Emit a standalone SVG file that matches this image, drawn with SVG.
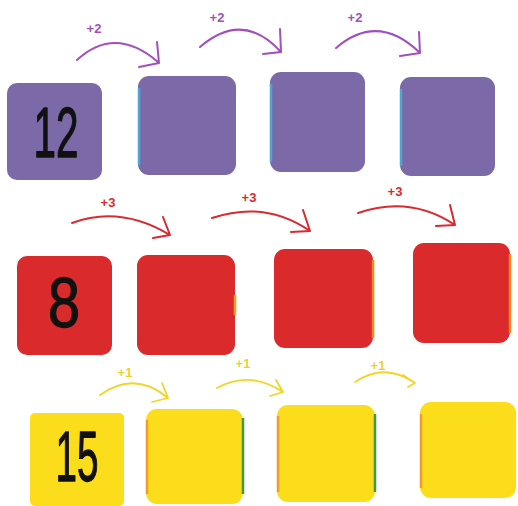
<svg xmlns="http://www.w3.org/2000/svg" width="518" height="506" viewBox="0 0 518 506">
<style>
.p{fill:#7c69a7}
.r{fill:#db2a2b}
.y{fill:#fcdd1c}
.num{font-family:"Liberation Sans",Arial,sans-serif;font-size:71px;fill:#111;stroke:#111;stroke-width:1.3;stroke-linejoin:round;text-anchor:middle}
.lbl{font-family:"Liberation Sans",Arial,sans-serif;font-size:13px;font-weight:bold;text-anchor:middle}
.ap{fill:none;stroke:#a24fbd;stroke-width:2;stroke-linecap:round;stroke-linejoin:round}
.ar{fill:none;stroke:#d92a30;stroke-width:2;stroke-linecap:round;stroke-linejoin:round}
.ay{fill:none;stroke:#f2d528;stroke-width:1.8;stroke-linecap:round;stroke-linejoin:round}
.edge{fill:none;stroke-width:2.5}
</style>
<rect width="518" height="506" fill="#fff"/>
<g id="connectors">
<path class="ap" d="M77,60 Q115,25 158,62 M139,67 L159,63 L157,42"/>
<path class="ap" d="M200,47 Q243,10 281,52 M263,54 L281,52 L280,29"/>
<path class="ap" d="M336,48 Q378,12 420,53 M400,56 L420,53 L419,32"/>
<text class="lbl" x="94" y="33" fill="#a24fbd">+2</text>
<text class="lbl" x="217" y="22" fill="#a24fbd">+2</text>
<text class="lbl" x="355" y="22" fill="#a24fbd">+2</text>
<path class="ar" d="M72,223 Q120,205 170,235 M153,238 L170,235 L163,217"/>
<path class="ar" d="M212,218 Q265,200 310,231 M291,232 L310,231 L303,210"/>
<path class="ar" d="M358,213 Q410,195 455,225 M436,226 L455,225 L450,205"/>
<text class="lbl" x="108" y="207" fill="#d92a30">+3</text>
<text class="lbl" x="249" y="202" fill="#d92a30">+3</text>
<text class="lbl" x="395" y="196" fill="#d92a30">+3</text>
<path class="ay" d="M100,395 Q135,370 168,398 M152,402 L168,398 L162,383"/>
<path class="ay" d="M217,388 Q250,370 283,392 M270,396 L283,392 L276,380"/>
<path class="ay" d="M355,382 Q385,362 415,383 M403,375 L415,383 L408,387"/>
<text class="lbl" x="125" y="377" fill="#f0d02a">+1</text>
<text class="lbl" x="243" y="368" fill="#f0d02a">+1</text>
<text class="lbl" x="378" y="370" fill="#f0d02a">+1</text>
</g>
<g id="p1"><rect class="p" x="7" y="83" width="95" height="97" rx="10"/><text class="num" x="56" y="157" textLength="45" lengthAdjust="spacingAndGlyphs">12</text></g>
<g id="p2"><rect class="p" x="138" y="76" width="98" height="99" rx="11"/><line class="edge" x1="139" y1="88" x2="139" y2="165" stroke="#4ba6d6"/></g>
<g id="p3"><rect class="p" x="270" y="72" width="95" height="100" rx="11"/><line class="edge" x1="271" y1="84" x2="271" y2="162" stroke="#4ba6d6"/></g>
<g id="p4"><rect class="p" x="400" y="77" width="95" height="99" rx="11"/><line class="edge" x1="401" y1="89" x2="401" y2="166" stroke="#4ba6d6"/></g>
<g id="r1"><rect class="r" x="17" y="256" width="95" height="99" rx="10"/><text class="num" x="64" y="327" textLength="32" lengthAdjust="spacingAndGlyphs">8</text></g>
<g id="r2"><rect class="r" x="137" y="255" width="98" height="100" rx="11"/><line class="edge" x1="235" y1="295" x2="235" y2="315" stroke="#f2a020"/></g>
<g id="r3"><rect class="r" x="274" y="249" width="99" height="99" rx="11"/><line class="edge" x1="373" y1="260" x2="373" y2="338" stroke="#f08a1c"/></g>
<g id="r4"><rect class="r" x="413" y="243" width="97" height="100" rx="11"/><line class="edge" x1="510" y1="254" x2="510" y2="333" stroke="#f08a1c"/></g>
<g id="y1"><rect class="y" x="30" y="413" width="94" height="93" rx="5"/><text class="num" x="77" y="481" textLength="43" lengthAdjust="spacingAndGlyphs">15</text></g>
<g id="y2"><rect class="y" x="146" y="409" width="97" height="95" rx="11"/><line class="edge" x1="147" y1="420" x2="147" y2="494" stroke="#f29a2a"/><line class="edge" x1="243" y1="418" x2="243" y2="494" stroke="#3d9a48"/></g>
<g id="y3"><rect class="y" x="277" y="405" width="98" height="97" rx="11"/><line class="edge" x1="278" y1="416" x2="278" y2="492" stroke="#f29a2a"/><line class="edge" x1="375" y1="414" x2="375" y2="492" stroke="#3d9a48"/></g>
<g id="y4"><rect class="y" x="420" y="402" width="96" height="96" rx="11"/><line class="edge" x1="421" y1="414" x2="421" y2="488" stroke="#f29a2a"/></g>
</svg>
